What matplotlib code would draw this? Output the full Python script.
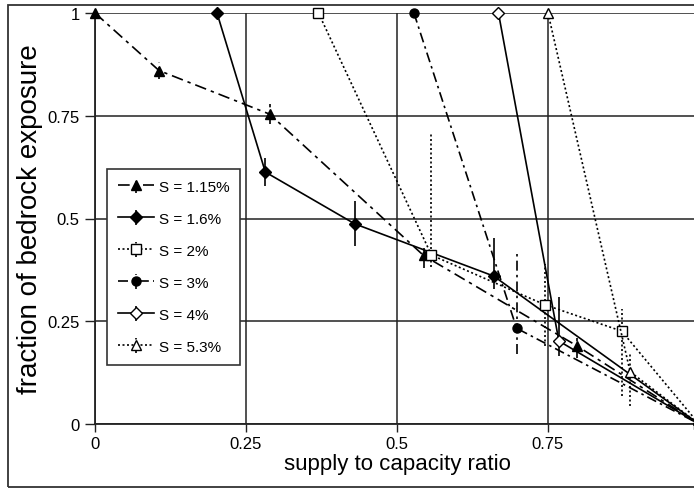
import matplotlib
matplotlib.use('Agg')
import matplotlib.pyplot as plt
from matplotlib.patches import Rectangle

plt.rcParams['font.family'] = ['Liberation Sans', 'DejaVu Sans']

# data
x_115 = [0.0, 0.106, 0.289, 0.544, 0.798, 1.0]
y_115 = [1.0, 0.86, 0.754, 0.41, 0.19, 0.0]
lo_115 = [0.0, 0.02, 0.025, 0.03, 0.03, 0.0]
hi_115 = [0.0, 0.02, 0.025, 0.03, 0.03, 0.0]

x_16 = [0.202, 0.282, 0.43, 0.66, 1.0]
y_16 = [1.0, 0.613, 0.487, 0.36, 0.0]
lo_16 = [0.0, 0.035, 0.055, 0.032, 0.0]
hi_16 = [0.0, 0.035, 0.055, 0.092, 0.0]

x_2 = [0.37, 0.557, 0.745, 0.872, 1.0]
y_2 = [1.0, 0.411, 0.29, 0.226, 0.0]
lo_2 = [0.0, 0.03, 0.1, 0.158, 0.0]
hi_2 = [0.0, 0.295, 0.1, 0.054, 0.0]

x_3 = [0.528, 0.698, 1.0]
y_3 = [1.0, 0.233, 0.0]
lo_3 = [0.0, 0.063, 0.0]
hi_3 = [0.0, 0.188, 0.0]

x_4 = [0.668, 0.768, 1.0]
y_4 = [1.0, 0.202, 0.0]
lo_4 = [0.0, 0.037, 0.0]
hi_4 = [0.0, 0.107, 0.0]

x_53 = [0.75, 0.886, 1.0]
y_53 = [1.0, 0.127, 0.0]
lo_53 = [0.0, 0.083, 0.0]
hi_53 = [0.0, 0.048, 0.0]

labels = ['S = 1.15%', 'S = 1.6%', 'S = 2%', 'S = 3%', 'S = 4%', 'S = 5.3%']
ticks = [0, 0.25, 0.5, 0.75, 1]
tick_labels = ['0', '0.25', '0.5', '0.75', '1']

fig = plt.figure(figsize=(6.94, 4.89), dpi=100)
# outer frame of the original image (right side runs off the picture)
fig.patches.append(Rectangle((8 / 694, 1.5 / 489), 1.05, 482 / 489, transform=fig.transFigure,
                             fill=False, edgecolor='#333333', linewidth=1.3))
ax = fig.add_axes([95 / 694, 64 / 489, 604 / 694, 411 / 489])

styles = [
    (x_115, y_115, lo_115, hi_115, '^', 'black', (0, (7, 3, 2, 3)), 7),
    (x_16, y_16, lo_16, hi_16, 'D', 'black', '-', 6),
    (x_2, y_2, lo_2, hi_2, 's', 'white', (0, (1.2, 1.5)), 6.5),
    (x_3, y_3, lo_3, hi_3, 'o', 'black', (0, (6, 2.5, 1.5, 2.5)), 6.5),
    (x_4, y_4, lo_4, hi_4, 'D', 'white', '-', 6),
    (x_53, y_53, lo_53, hi_53, '^', 'white', (0, (1.2, 1.5)), 7),
]

for (xs, ys, lo, hi, mk, fc, ls, ms), lab in zip(styles, labels):
    cont = ax.errorbar(xs, ys, yerr=[lo, hi], fmt=mk, color='black', mfc=fc, mec='black',
                       ms=ms, ls=ls, lw=1.2, elinewidth=1.2, capsize=0, label=lab,
                       zorder=3, clip_on=False)
    for bl in cont[2]:
        bl.set_linestyle(ls)

ax.set_xlim(0, 1)
ax.set_ylim(0, 1)
ax.set_xticks(ticks)
ax.set_xticklabels(tick_labels, fontsize=12)
ax.set_yticks(ticks)
ax.set_yticklabels(tick_labels, fontsize=12)
ax.grid(True, color='#222222', linewidth=1.1)
ax.set_axisbelow(True)
ax.tick_params(axis='x', length=6, width=1, color='#222222', pad=3)
ax.tick_params(axis='y', length=7, width=1, color='#222222', pad=4)
for side in ['top', 'right']:
    ax.spines[side].set_visible(False)
for side in ['left', 'bottom']:
    ax.spines[side].set_linewidth(1.3)
    ax.spines[side].set_color('#222222')

ax.set_xlabel('supply to capacity ratio', fontsize=16, labelpad=1)
ax.set_ylabel('fraction of bedrock exposure', fontsize=20, labelpad=3)

leg = ax.legend(loc='upper left', bbox_to_anchor=(12 / 604, 255 / 411), borderaxespad=0,
                fontsize=11, frameon=True, fancybox=False, edgecolor='#333333',
                framealpha=1, labelspacing=1.18, handlelength=2.35, borderpad=0.7,
                handletextpad=0.35)
leg.get_frame().set_linewidth(1.2)

fig.savefig('out.png', dpi=100)
